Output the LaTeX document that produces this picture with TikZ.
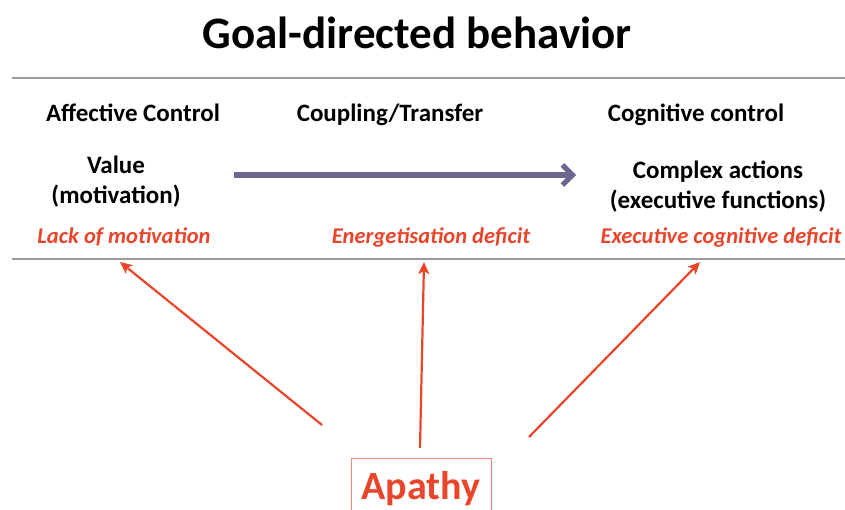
\documentclass[tikz,border=0pt]{standalone}
\usepackage{fontspec}
\setmainfont{Carlito}
\usetikzlibrary{arrows.meta}
\definecolor{apred}{HTML}{E8452B}
\definecolor{apbox}{HTML}{F2877A}
\definecolor{flow}{HTML}{6F6591}
\definecolor{rule}{HTML}{9C9C9C}
\begin{document}
\begin{tikzpicture}[x=1pt, y=-1pt,
	head/.style={font=\bfseries\fontsize{25}{30}\selectfont, inner sep=0pt, anchor=base},
	item/.style={font=\bfseries\fontsize{25}{30}\selectfont, align=center, inner sep=0pt},
	deficit/.style={text=apred, font=\bfseries\itshape\fontsize{22.5}{26}\selectfont, inner sep=0pt, anchor=base},
	cause/.style={-{Stealth[length=12pt, width=11pt, inset=3pt]}, apred, line width=2.2pt}]
		\useasboundingbox (0,0) rectangle (845,510);
		\clip (0,0) rectangle (845,510);
		\node[font=\bfseries\fontsize{45}{50}\selectfont, inner sep=0pt] (title) at (417,33) {Goal-directed behavior};
		\draw[rule, line width=1.5pt] (12,78) -- (845,78);
		\draw[rule, line width=1.5pt] (12,259) -- (845,259);
		% column heads
		\node[head] (affect) at (133,122) {Affective Control};
		\node[head] (couple) at (390,122) {Coupling/Transfer};
		\node[head] (cognit) at (696,122) {Cognitive control};
		\node[item] (value) at (116,182) {Value\\(motivation)};
		\node[item] (complex) at (718,187) {Complex actions\\(executive functions)};
		\draw[flow, line width=5.5pt, -{Straight Barb[length=10pt, width=20pt, line width=5pt]}] (234,175) -- (576,175);
		% deficits
		\node[deficit] (lack) at (124,244) {Lack of motivation};
		\node[deficit] (energy) at (431,244) {Energetisation deficit};
		\node[deficit] (exec) at (721,244) {Executive cognitive deficit};
		\node[draw=apbox, line width=1pt, minimum width=140pt, anchor=north,
			text=apred, font=\bfseries\fontsize{40}{44}\selectfont, text height=38pt, text depth=20pt] (apathy) at (421,458) {Apathy};
		\coordinate (lacktip) at (120,262);
		\coordinate (energytip) at (424,262);
		\coordinate (exectip) at (700,262);
		\coordinate (lackfoot) at (322,425);
		\coordinate (energyfoot) at (420,448);
		\coordinate (execfoot) at (529,437);
		\draw[cause] (lackfoot) -- (lacktip);
		\draw[cause] (energyfoot) -- (energytip);
		\draw[cause] (execfoot) -- (exectip);
\end{tikzpicture}
\end{document}
